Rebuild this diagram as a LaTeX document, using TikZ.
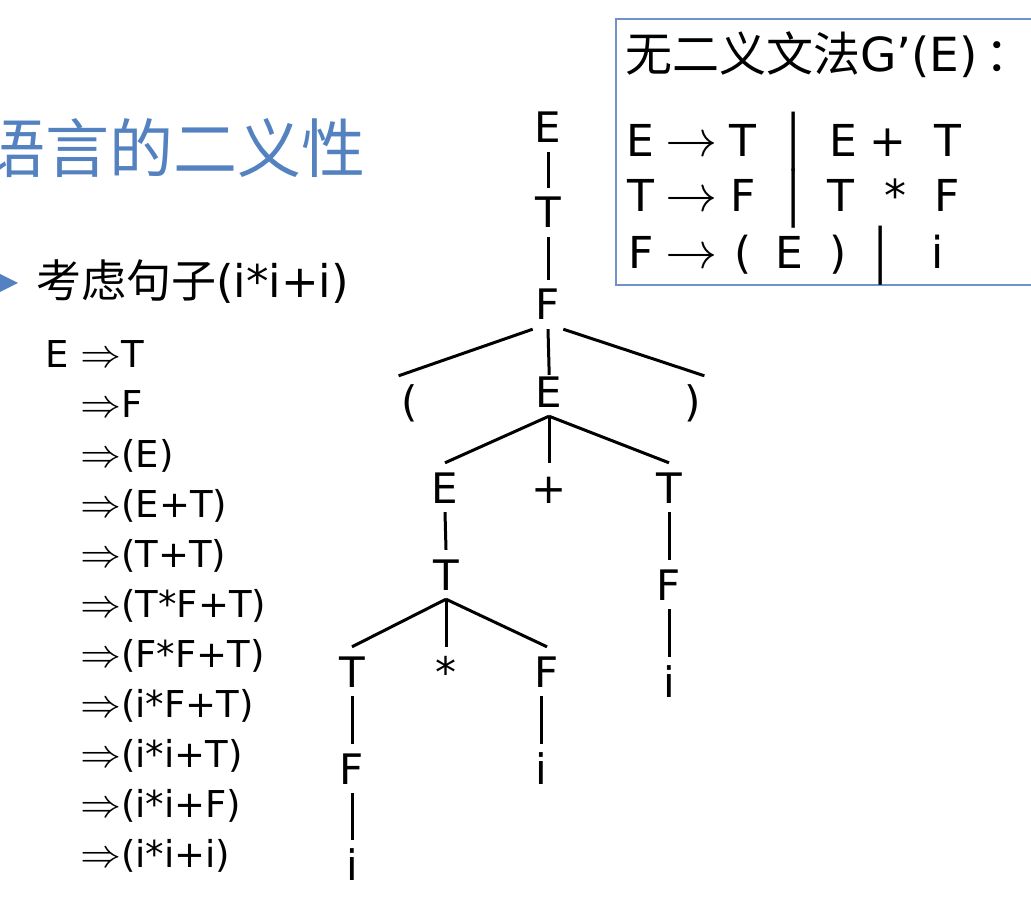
\documentclass[tikz,border=0pt]{standalone}
\usepackage{unicode-math}
\setmainfont{DejaVu Sans}
\newfontfamily\cjk{Noto Sans CJK SC}
\definecolor{titleblue}{RGB}{84,130,192}
\definecolor{boxblue}{RGB}{112,146,202}
\tikzset{
  sym/.style={font=\fontsize{42}{48}\selectfont, anchor=base, inner xsep=3pt, inner ysep=9pt, text height=31pt, text depth=0pt},
  rulesym/.style={font=\fontsize{44}{50}\selectfont, anchor=base, inner sep=0pt},
  arrowsym/.style={font=\fontsize{52}{58}\selectfont, anchor=base, inner sep=0pt},
  barsym/.style={font=\cjk\fontsize{53}{58}\selectfont, anchor=base, inner sep=0pt},
  deriv/.style={font=\fontsize{37}{42}\selectfont, anchor=base west, inner sep=0pt},
  branch/.style={line width=3pt},
}
\begin{document}
\begin{tikzpicture}[x=1pt, y=-1pt]
  \clip (0,0) rectangle (1031,909);

  % heading
  \node[anchor=east, inner sep=0pt, text=titleblue, font=\cjk\fontsize{64}{70}\selectfont] (title) at (366,148) {语言的二义性};
  \fill[titleblue] (-6,271) -- (18,283) -- (-6,295) -- cycle;
  \node[anchor=west, inner sep=0pt, font=\fontsize{45}{50}\selectfont] (sentence) at (36,282) {{\cjk 考虑句子}(i*i+i)};

  % derivation
  \node[deriv] (dStart) at (45,367) {E};
  \foreach \s [count=\i from 0] in {T, F, (E), (E+T), (T+T), (T*F+T), (F*F+T), (i*F+T), (i*i+T), (i*i+F), (i*i+i)} {
    \node[deriv] (d\i) at (80,{367+50*\i}) {{\fontsize{41}{42}\selectfont$\Rightarrow$}\s};
  }

  % grammar box
  \draw[boxblue, line width=1.6pt] (616,19) rectangle (1045,285);
  \node[anchor=base west, inner sep=0pt, font=\cjk\fontsize{47}{52}\selectfont] (gTitle) at (625,72) {无二义文法{\rmfamily G’(E)}\,：};
  \foreach \x/\s [count=\k] in {640/E, 743/T, 843/E, 888/+, 948/T} {
    \node[rulesym] (ra\k) at (\x,157) {\s};
  }
  \foreach \x/\s [count=\k] in {641/T, 743/F, 841/T, 895/*, 947/F} {
    \node[rulesym] (rb\k) at (\x,212) {\s};
  }
  \foreach \x/\s [count=\k] in {641/F, 743/(, 789/E, 838/), 938/i} {
    \node[rulesym] (rc\k) at (\x,269) {\s};
  }
  \foreach \y/\r in {157/a, 212/b, 269/c} {
    \node[arrowsym] (arr\r) at (691,\y) {$\rightarrow$};
  }
  \node[barsym] (barA) at (794,157) {|};
  \node[barsym] (barB) at (794,214) {|};
  \node[barsym] (barC) at (881,271) {|};

  % tree
  \node[sym] (eRoot) at (548,143) {E};
  \node[sym] (tA) at (548,228) {T};
  \node[sym] (fA) at (548,320) {F};
  \node[sym] (lpar) at (410,416) {(};
  \node[sym] (eB) at (549,407) {E};
  \node[sym] (rpar) at (693,416) {)};
  \node[sym] (eC) at (445,503) {E};
  \node[sym] (plus) at (549,503) {+};
  \node[sym] (tB) at (669,503) {T};
  \node[sym] (tC) at (446,590) {T};
  \node[sym] (fB) at (669,600) {F};
  \node[sym] (iB) at (669,697) {i};
  \node[sym] (tD) at (352,687) {T};
  \node[sym] (star) at (446,687) {*};
  \node[sym] (fC) at (547,687) {F};
  \node[sym] (fD) at (352,784) {F};
  \node[sym] (iC) at (541,784) {i};
  \node[sym] (iD) at (352,880) {i};

  \foreach \a/\b in {eRoot/tA, tA/fA, eB/eC, eB/plus, eB/tB, eC/tC, tB/fB, fB/iB, tC/tD, tC/star, tC/fC, tD/fD, fD/iD} {
    \draw[branch] (\a.south) -- (\b.north);
  }
  \draw[branch, shorten >=-8pt] (fA.south) -- (eB.north);
  \draw[branch] (fA.south west) -- (lpar.north west);
  \draw[branch] (fA.south east) -- (rpar.north east);
  \draw[branch] (iC.north |- fC.south) -- (iC.north);
\end{tikzpicture}
\end{document}
